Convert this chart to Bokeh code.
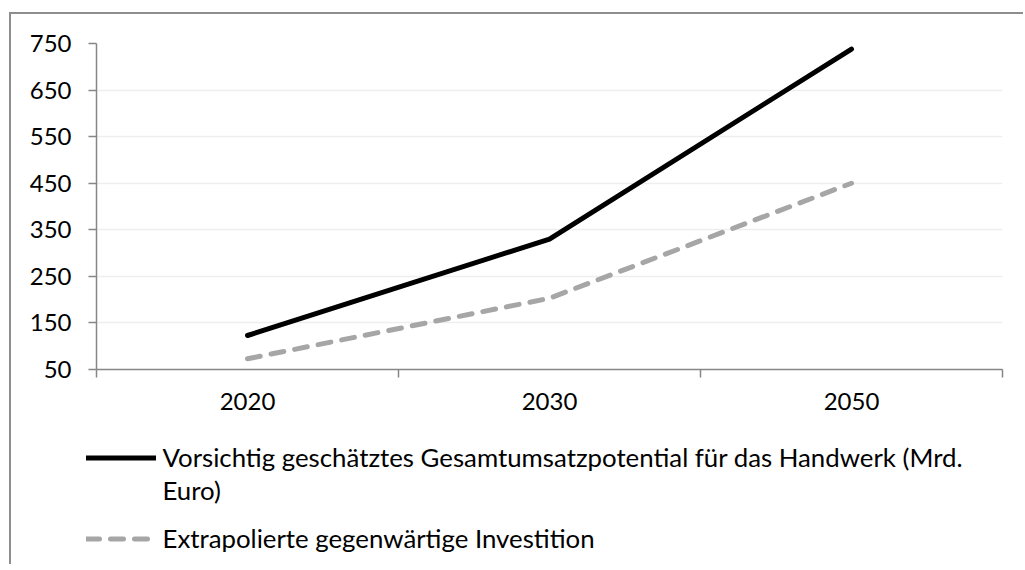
from bokeh.plotting import figure
from bokeh.models import ColumnDataSource, Range1d, FixedTicker, Legend, LegendItem
from bokeh.embed import file_html
from bokeh.resources import INLINE

# ---- data ----
years = ["2020", "2030", "2050"]
gesamtumsatz = [123, 330, 738]      # Vorsichtig geschätztes Gesamtumsatzpotential (Mrd. Euro)
investition = [73, 203, 450]        # Extrapolierte gegenwärtige Investition
y_ticks = [50, 150, 250, 350, 450, 550, 650, 750]

label_black_1 = "Vorsichtig geschätztes Gesamtumsatzpotential für das Handwerk (Mrd."
label_black_2 = "Euro)"
label_gray = "Extrapolierte gegenwärtige Investition"

FONT = "Lato"
FS = "24px"
LFS = "25.8px"
AX = "#868686"
FRAME = "2px solid #8e8e8e"
BLACK_STYLE = dict(line_color="black", line_width=5, line_cap="round", line_join="round")
GRAY_STYLE = dict(line_color="#a6a6a6", line_width=5, line_dash="13 11",
                  line_cap="round", line_join="round")

xpos = [i + 0.5 for i in range(len(years))]
src = ColumnDataSource(dict(x=xpos, a=gesamtumsatz, b=investition))

# ---- main chart ----
p = figure(width=1014, height=416, output_backend="svg", toolbar_location=None,
           x_range=Range1d(0, len(years)), y_range=Range1d(y_ticks[0], y_ticks[-1]),
           min_border_left=85, min_border_top=29, min_border_right=23, min_border_bottom=61,
           margin=(12, 0, 0, 9), styles={"border-left": FRAME, "border-top": FRAME})
p.outline_line_color = None
p.border_fill_color = "white"

r_a = p.line("x", "a", source=src, **BLACK_STYLE)
r_b = p.line("x", "b", source=src, **GRAY_STYLE)

xa = p.xaxis[0]
xa.ticker = FixedTicker(ticks=xpos, minor_ticks=list(range(len(years) + 1)))
xa.major_label_overrides = {xv: y for xv, y in zip(xpos, years)}
xa.major_tick_line_color = None
xa.minor_tick_line_color = AX
xa.minor_tick_line_width = 1.5
xa.minor_tick_out = 8
xa.minor_tick_in = 0
xa.axis_line_color = AX
xa.axis_line_width = 1.5
xa.major_label_standoff = 15
xa.major_label_text_font = FONT
xa.major_label_text_font_size = FS
xa.major_label_text_color = "black"

ya = p.yaxis[0]
ya.ticker = FixedTicker(ticks=y_ticks, minor_ticks=[])
ya.major_tick_line_color = AX
ya.major_tick_line_width = 1.5
ya.major_tick_out = 8
ya.major_tick_in = 0
ya.minor_tick_line_color = None
ya.axis_line_color = AX
ya.axis_line_width = 1.5
ya.major_label_standoff = 17
ya.major_label_text_font = FONT
ya.major_label_text_font_size = FS
ya.major_label_text_color = "black"

p.xgrid.grid_line_color = None
p.ygrid.grid_line_color = "#eeeeee"
p.ygrid.grid_line_width = 1.5
p.ygrid.ticker = FixedTicker(ticks=y_ticks)

# ---- legend panel (separate root, series lines lie outside its view) ----
p2 = figure(width=1014, height=136, output_backend="svg", toolbar_location=None,
            x_axis_type=None, y_axis_type=None,
            x_range=Range1d(0, 1), y_range=Range1d(-2, -1),
            min_border_left=0, min_border_right=0, min_border_top=0, min_border_bottom=0,
            margin=(0, 0, 0, 9), styles={"border-left": FRAME})
p2.grid.visible = False
p2.outline_line_color = None
p2.border_fill_color = "white"
l_a = p2.line("x", "a", source=src, **BLACK_STYLE)
l_b = p2.line("x", "b", source=src, **GRAY_STYLE)


def make_legend(items, loc):
    return Legend(items=items, location=loc, orientation="vertical",
                  glyph_width=70, glyph_height=33, label_height=33,
                  label_standoff=7, spacing=0, padding=0, margin=0,
                  label_text_font=FONT, label_text_font_size=LFS,
                  label_text_color="black", border_line_color=None,
                  background_fill_alpha=0)


leg1 = make_legend([LegendItem(label=label_black_1, renderers=[l_a]),
                    LegendItem(label=label_black_2, renderers=[])], (74.5, 57.5))
leg2 = make_legend([LegendItem(label=label_gray, renderers=[l_b])], (74.5, 9.5))
p2.add_layout(leg1, "center")
p2.add_layout(leg2, "center")

open("out.html", "w").write(file_html([p, p2], INLINE))
